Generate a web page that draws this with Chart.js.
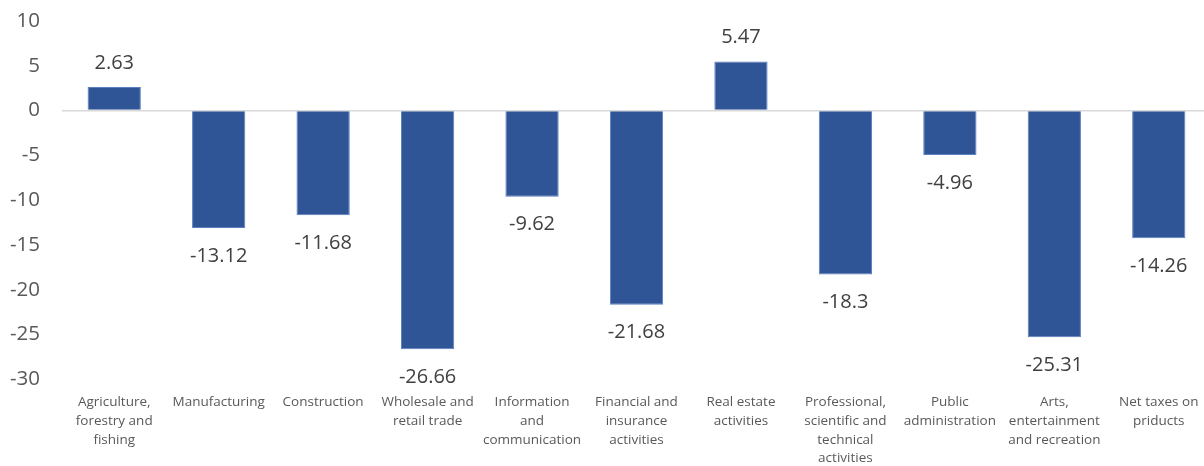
<!DOCTYPE html>
<html>
<head>
<meta charset="utf-8">
<script src="https://cdn.jsdelivr.net/npm/chart.js@4"></script>
<style>
  html, body { margin: 0; padding: 0; background: #fff; overflow: hidden; }
  /* plot runs a few px past the right edge, like the original */
  #wrap { width: 1204px; height: 466px; overflow: hidden; }
</style>
</head>
<body>
<div id="wrap"><canvas id="chart" width="1211" height="466"></canvas></div>
<script>
// categories (line-broken like the original axis)
const categories = [
  ['Agriculture,', 'forestry and', 'fishing'],
  ['Manufacturing'],
  ['Construction'],
  ['Wholesale and', 'retail trade'],
  ['Information', 'and', 'communication'],
  ['Financial and', 'insurance', 'activities'],
  ['Real estate', 'activities'],
  ['Professional,', 'scientific and', 'technical', 'activities'],
  ['Public', 'administration'],
  ['Arts,', 'entertainment', 'and recreation'],
  ['Net taxes on', 'priducts']
];
const values = [2.63, -13.12, -11.68, -26.66, -9.62, -21.68, 5.47, -18.3, -4.96, -25.31, -14.26];
const yMin = -30;
const yMax = 10;
const yStep = 5;

const FONT = '"Open Sans", "Liberation Sans", sans-serif';

// draw the value above/below each bar
const valueLabels = {
  id: 'valueLabels',
  afterDatasetsDraw(chart) {
    const ctx = chart.ctx;
    const meta = chart.getDatasetMeta(0);
    ctx.save();
    ctx.font = '20px ' + FONT;
    ctx.fillStyle = '#404040';
    ctx.textAlign = 'center';
    ctx.textBaseline = 'middle';
    meta.data.forEach((bar, i) => {
      const v = values[i];
      const y = v >= 0 ? bar.y - 24 : bar.y + 28;
      ctx.fillText(String(v), bar.x, y);
    });
    ctx.restore();
  }
};

// let the layout padding decide the plot edges, not the tick label overhang
function resetPadding(axis) {
  axis.paddingTop = 0;
  axis.paddingBottom = 0;
  axis.paddingLeft = 0;
  axis.paddingRight = 0;
}

new Chart(document.getElementById('chart'), {
  type: 'bar',
  data: {
    labels: categories,
    datasets: [{
      data: values,
      backgroundColor: '#2f5597',
      borderColor: '#5b7fbf',
      borderWidth: 1,
      barPercentage: 0.51,
      categoryPercentage: 1
    }]
  },
  options: {
    responsive: false,
    animation: false,
    layout: { padding: { left: 0, right: 0, top: 21, bottom: -16 } },
    plugins: {
      legend: { display: false },
      tooltip: { enabled: false }
    },
    scales: {
      x: {
        afterFit: resetPadding,
        grid: { display: false, drawTicks: false },
        border: { display: false },
        ticks: {
          color: '#595959',
          font: { family: FONT, size: 13.5, lineHeight: 1.385 },
          maxRotation: 0,
          autoSkip: false,
          padding: 14
        }
      },
      y: {
        min: yMin,
        max: yMax,
        afterFit: axis => { axis.width = 62; resetPadding(axis); },
        grid: {
          drawTicks: false,
          lineWidth: 1.5,
          color: c => (c.tick && c.tick.value === 0 ? '#d9d9d9' : 'rgba(0,0,0,0)')
        },
        border: { display: false },
        ticks: {
          stepSize: yStep,
          color: '#595959',
          font: { family: FONT, size: 20.5 },
          padding: 22
        }
      }
    }
  },
  plugins: [valueLabels]
});
</script>
</body>
</html>
